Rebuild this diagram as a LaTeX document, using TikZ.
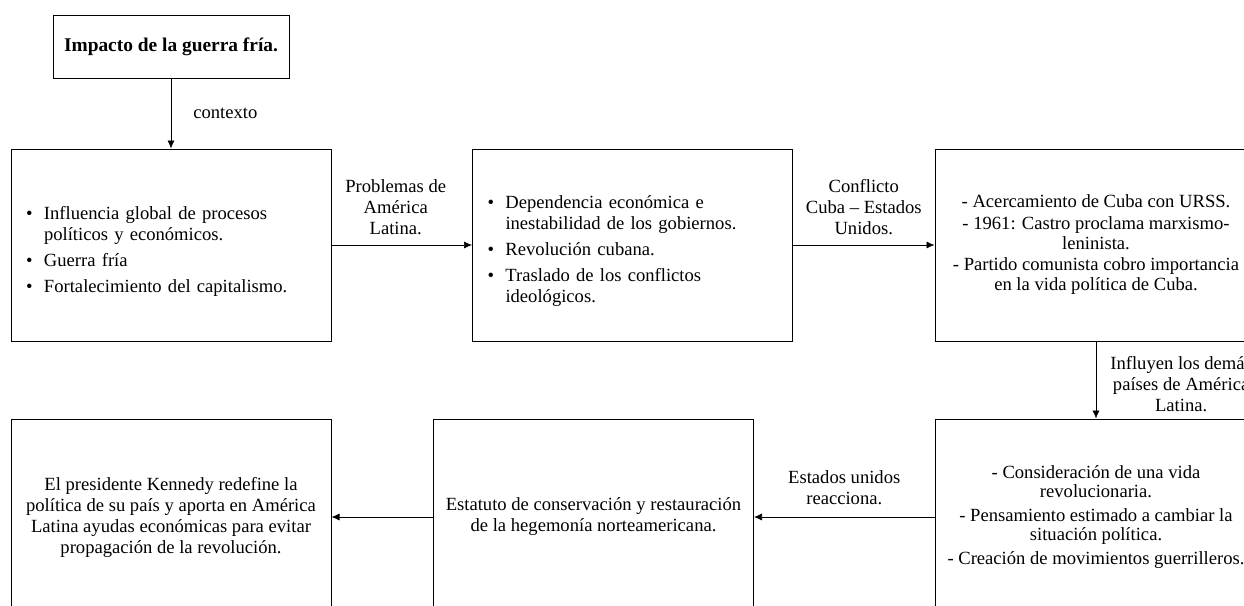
\documentclass[tikz,border=0pt]{standalone}
\usepackage{fontspec}
\setmainfont{Liberation Serif}
\usepackage{tikz}
\usetikzlibrary{arrows.meta}
\newcommand{\bitem}[1]{\par\hangindent=18pt\hangafter=1\noindent\hbox to 18pt{\textbullet\hfil}#1\par}

\begin{document}
\begin{tikzpicture}[x=1pt, y=-1pt,
    every node/.style={font=\fontsize{18.6}{21}\selectfont, inner sep=0pt},
    box/.style={draw, line width=1pt, minimum width=320pt, minimum height=192pt, align=center},
    lowbox/.style={box, minimum height=196pt},
    conn/.style={line width=.7pt, -{Latex[length=8pt, width=7pt]}}]
    \useasboundingbox (0,0) rectangle (1244,605);
    \clip (0,0) rectangle (1244,605);
    \node[draw, line width=1pt, minimum width=236pt, minimum height=63pt, font=\fontsize{19.4}{21}\selectfont] (imp) at (171,46.5) {\textbf{Impacto de la guerra fría.}};
    \node[box, text width=290pt, align=left] (infl) at (171,245) {\setlength{\parskip}{5pt}\bitem{Influencia global de procesos\newline políticos y económicos.}\bitem{Guerra fría}\bitem{Fortalecimiento del capitalismo.}};
    \node[box, text width=290pt, align=left] (dep) at (632.5,245) {\setlength{\parskip}{5pt}\bitem{Dependencia económica e\newline inestabilidad de los gobiernos.}\bitem{Revolución cubana.}\bitem{Traslado de los conflictos\newline ideológicos.}};
    \node[box, minimum width=322pt, font=\fontsize{18.6}{20}\selectfont] (cub) at (1096,245) {- Acercamiento de Cuba con URSS.\\[1.5pt]- 1961: Castro proclama marxismo-\\leninista.\\[1.5pt]- Partido comunista cobro importancia\\en la vida política de Cuba.};
    \node[lowbox, minimum width=322pt, font=\fontsize{18.6}{19.5}\selectfont] (rev) at (1096,517) {- Consideración de una vida\\revolucionaria.\\[4pt]- Pensamiento estimado a cambiar la\\situación política.\\[4pt]- Creación de movimientos guerrilleros.};
    \node[lowbox] (est) at (593.5,517) {Estatuto de conservación y restauración\\de la hegemonía norteamericana.};
    \node[lowbox] (ken) at (171,517) {El presidente Kennedy redefine la\\política de su país y aporta en América\\Latina ayudas económicas para evitar\\propagación de la revolución.};
    \draw[conn] (imp) -- node[midway, right=22pt] (lctx) {contexto} (infl);
    \draw[conn] (infl) -- node[midway, above=10pt, xshift=-6pt, align=center] (lprob) {Problemas de\\América\\Latina.} (dep);
    \draw[conn] (dep) -- node[midway, above=10pt, align=center] (lconf) {Conflicto\\Cuba – Estados\\Unidos.} (cub);
    \draw[conn] (cub) -- node[midway, right=14pt, yshift=-4pt, align=center] (linf) {Influyen los demás\\países de América\\Latina.} (rev);
    \draw[conn] (rev) -- node[midway, above=12pt, align=center] (lreac) {Estados unidos\\reacciona.} (est);
    \draw[conn] (est) -- (ken);
\end{tikzpicture}
\end{document}
